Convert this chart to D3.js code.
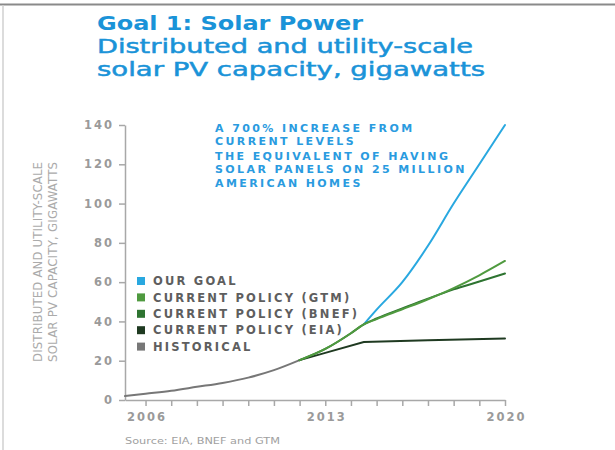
<!DOCTYPE html>
<html>
<head>
<meta charset="utf-8">
<script src="https://cdn.jsdelivr.net/npm/d3@7"></script>
<style>
  body { margin: 0; background: #fff; }
  svg { display: block; }
</style>
</head>
<body>
<div id="chart"></div>
<script>
// --- data (year, gigawatts) ---
const historical = [[2005.2, 2.0], [2006, 3.2], [2007, 4.7], [2008, 6.7], [2009, 8.7], [2010, 11.4], [2011, 15.2], [2012, 20.3]];
const goal = [[2014.5, 38.5], [2015, 46], [2016, 60], [2017, 78.5], [2018, 100], [2019, 120], [2020, 140]];
const gtm = [[2012, 20.3], [2013, 26], [2014, 34], [2014.5, 38.5], [2015, 41.2], [2016, 46.2], [2017, 51.3], [2018, 57], [2019, 63.5], [2020, 70.8]];
const bnef = [[2012, 20.3], [2013, 26], [2014, 34], [2014.5, 38.5], [2015, 41.5], [2016, 46.6], [2017, 51.6], [2018, 56.3], [2019, 60.3], [2020, 64.4]];
const eia = [[2012, 20.3], [2013, 24], [2014.5, 29.5], [2017, 30.4], [2020, 31.3]];

const yTicks = [0, 20, 40, 60, 80, 100, 120, 140];
const xTicks = d3.range(2006, 2021);
const xLabels = [2006, 2013, 2020];

const legendItems = [
    { label: "OUR GOAL", color: "#29a8e0" },
    { label: "CURRENT POLICY (GTM)", color: "#4f9a3f" },
    { label: "CURRENT POLICY (BNEF)", color: "#2e7431" },
    { label: "CURRENT POLICY (EIA)", color: "#1f3a21" },
    { label: "HISTORICAL", color: "#777777" }
];
const noteLines = [
    ["A 700% INCREASE FROM", "CURRENT LEVELS"],
    ["THE EQUIVALENT OF HAVING", "SOLAR PANELS ON 25 MILLION", "AMERICAN HOMES"]
];

const width = 615, height = 450;
const blue = "#1a93d8";

const svg = d3.select("#chart").append("svg")
    .attr("width", width)
    .attr("height", height);

// frame lines like the screenshot
svg.append("line").attr("x1", 0).attr("x2", width).attr("y1", 4.5).attr("y2", 4.5)
    .attr("stroke", "#8a8a8a").attr("stroke-width", 2);
svg.append("line").attr("x1", 3).attr("x2", 3).attr("y1", 5).attr("y2", height)
    .attr("stroke", "#d0d0d0").attr("stroke-width", 1.5);

// titles
svg.append("text").attr("x", 97).attr("y", 29.5)
    .attr("font-family", "DejaVu Sans").attr("font-weight", "bold").attr("font-size", 20)
    .attr("fill", blue).attr("textLength", 266).attr("lengthAdjust", "spacingAndGlyphs")
    .text("Goal 1: Solar Power");
const sub = svg.append("text")
    .attr("font-family", "DejaVu Sans").attr("font-size", 19.5)
    .attr("fill", blue).attr("stroke", blue).attr("stroke-width", 0.5);
sub.append("tspan").attr("x", 97).attr("y", 53)
    .attr("textLength", 376).attr("lengthAdjust", "spacingAndGlyphs")
    .text("Distributed and utility-scale");
sub.append("tspan").attr("x", 97).attr("y", 76)
    .attr("textLength", 388).attr("lengthAdjust", "spacingAndGlyphs")
    .text("solar PV capacity, gigawatts");

// scales
const x = d3.scaleLinear().domain([2005.2, 2020]).range([125, 505]);
const y = d3.scaleLinear().domain([0, 140]).range([400, 125]);

const axisColor = "#a8a8a8";
const tickFont = "DejaVu Sans";

const gy = svg.append("g").attr("transform", `translate(${x(2005.2)},0)`)
    .call(d3.axisLeft(y).tickValues(yTicks).tickSize(6).tickSizeOuter(0).tickPadding(5));
const gx = svg.append("g").attr("transform", `translate(0,${y(0)})`)
    .call(d3.axisBottom(x).tickValues(xTicks).tickSize(6).tickSizeOuter(0).tickPadding(5)
        .tickFormat(d => xLabels.includes(d) ? d : ""));

[gy, gx].forEach(g => {
    g.select(".domain").attr("stroke", axisColor).attr("stroke-width", 1.5);
    g.selectAll(".tick line").attr("stroke", axisColor).attr("stroke-width", 1.5);
    g.selectAll(".tick text")
        .attr("fill", "#9a9a9a")
        .attr("font-family", tickFont)
        .attr("font-size", 11.5)
        .attr("font-weight", "bold")
        .style("letter-spacing", "2px");
});
gx.selectAll(".tick text").attr("dy", "0.9em").attr("dx", "1px");

// y axis title
const yTitle = svg.append("text")
    .attr("transform", "translate(42,262) rotate(-90)")
    .attr("text-anchor", "middle")
    .attr("font-family", "Liberation Sans Narrow, DejaVu Sans Condensed, sans-serif")
    .attr("font-size", 13)
    .attr("fill", "#ababab");
yTitle.append("tspan").attr("x", 0).attr("y", 0).attr("textLength", 200).text("DISTRIBUTED AND UTILITY-SCALE");
yTitle.append("tspan").attr("x", 0).attr("y", 15).attr("textLength", 200).text("SOLAR PV CAPACITY, GIGAWATTS");

// lines
const smooth = d3.line().x(d => x(d[0])).y(d => y(d[1])).curve(d3.curveMonotoneX);
const straight = d3.line().x(d => x(d[0])).y(d => y(d[1]));

const series = [
    { data: historical, color: "#777777", gen: smooth },
    { data: goal, color: "#29a8e0", gen: smooth },
    { data: eia, color: "#1f3a21", gen: straight },
    { data: bnef, color: "#2e7431", gen: smooth },
    { data: gtm, color: "#4f9a3f", gen: smooth }
];
svg.selectAll("path.series")
    .data(series)
    .enter()
    .append("path")
    .attr("class", "series")
    .attr("d", d => d.gen(d.data))
    .attr("fill", "none")
    .attr("stroke", d => d.color)
    .attr("stroke-width", 2)
    .attr("stroke-linecap", "round");

// legend
const legend = svg.append("g").attr("transform", "translate(137,281)");
const rows = legend.selectAll("g")
    .data(legendItems)
    .enter()
    .append("g")
    .attr("transform", (d, i) => `translate(0,${i * 16.4})`);
rows.append("rect").attr("x", 0).attr("y", -4).attr("width", 8).attr("height", 8)
    .attr("fill", d => d.color);
rows.append("text").attr("x", 16).attr("y", 0).attr("dy", "0.36em")
    .attr("font-family", "DejaVu Sans").attr("font-weight", "bold").attr("font-size", 11.5)
    .attr("fill", "#5e5e5e")
    .style("letter-spacing", "2.2px")
    .text(d => d.label);

// annotation
const note = svg.append("g").attr("transform", "translate(215,128)");
let ny = 0;
noteLines.forEach((para, pi) => {
    if (pi > 0) ny += 1;
    para.forEach(line => {
        note.append("text").attr("x", 0).attr("y", ny).attr("dy", "0.36em")
            .attr("font-family", "DejaVu Sans").attr("font-weight", "bold").attr("font-size", 11)
            .attr("fill", "#2a9be0")
            .style("letter-spacing", "2.4px")
            .text(line);
        ny += 13.4;
    });
});

// source
svg.append("text").attr("x", 125).attr("y", 441).attr("dy", "0.36em")
    .attr("font-family", "DejaVu Sans").attr("font-size", 9)
    .attr("fill", "#a0a0a0").attr("textLength", 155).attr("lengthAdjust", "spacingAndGlyphs")
    .text("Source: EIA, BNEF and GTM");
</script>
</body>
</html>
